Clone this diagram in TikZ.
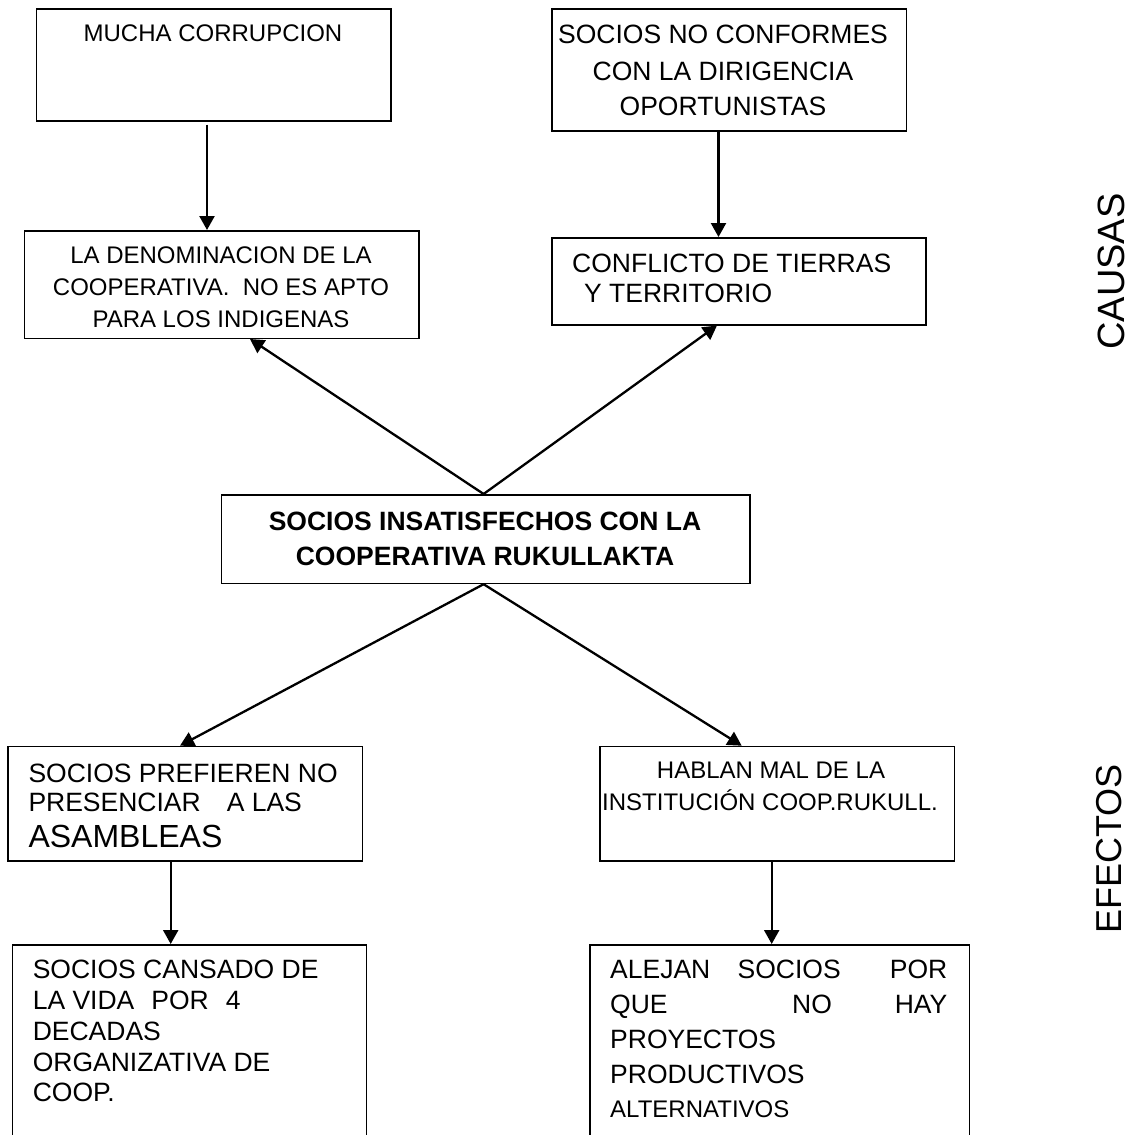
\documentclass[tikz,border=0pt]{standalone}
\usepackage{fontspec}
\setmainfont{Liberation Sans}
\usetikzlibrary{arrows.meta,calc}
\tikzset{
  box/.style={draw=black, line width=1.5pt, rectangle, inner sep=0pt, anchor=north west},
  arr/.style={line width=2.3pt, -{Triangle[width=15pt,length=14pt]}},
  txt/.style={inner sep=0pt, anchor=base, font=\fontsize{24}{28}\selectfont},
  txtl/.style={inner sep=0pt, anchor=base west, font=\fontsize{24}{28}\selectfont},
  big/.style={font=\fontsize{26.5}{30}\selectfont},
  bold/.style={font=\fontsize{26.5}{30}\selectfont\bfseries},
  side/.style={inner sep=0pt, rotate=90, font=\fontsize{36}{40}\selectfont}
}
\begin{document}
\begin{tikzpicture}[x=1pt,y=-1pt]
\useasboundingbox (0,0) rectangle (1136,1135);
% boxes
\node[box, minimum width=354.5pt, minimum height=112pt] (b1) at (35.5,8) {};
\node[box, minimum width=394.5pt, minimum height=107.5pt] (b2) at (23.5,230) {};
\node[box, minimum width=354.6pt, minimum height=122pt] (b3) at (551,8) {};
\node[box, minimum width=374pt, minimum height=87pt] (b4) at (551,237) {};
\node[box, minimum width=528.4pt, minimum height=88.7pt] (c) at (220.6,494) {};
\node[box, minimum width=354.3pt, minimum height=114.3pt] (b5) at (7.2,745.7) {};
\node[box, minimum width=354.2pt, minimum height=200pt] (b6) at (11.6,944) {};
\node[box, minimum width=354.5pt, minimum height=114.3pt] (b7) at (599.3,745.7) {};
\node[box, minimum width=379.4pt, minimum height=200pt] (b8) at (589.4,944) {};
% texts
\node[txt] (t1) at (213,41.7) {MUCHA CORRUPCION};
\node[txt] (t2a) at (221,263) {LA DENOMINACION DE LA};
\node[txt] (t2b) at (221,295) {COOPERATIVA.\ \ NO ES APTO};
\node[txt] (t2c) at (221,327) {PARA LOS INDIGENAS};
\node[txt, big] (t3a) at (723,43) {SOCIOS NO CONFORMES};
\node[txt, big] (t3b) at (723,80) {CON LA DIRIGENCIA};
\node[txt, big] (t3c) at (723,115) {OPORTUNISTAS};
\node[txtl, big] (t4a) at (572,272) {CONFLICTO DE TIERRAS};
\node[txtl, big] (t4b) at (584,302) {Y TERRITORIO};
\node[txt, bold] (tca) at (485,530) {SOCIOS INSATISFECHOS CON LA};
\node[txt, bold] (tcb) at (485,565) {COOPERATIVA RUKULLAKTA};
\node[txtl, big] (t5a) at (28.3,782) {SOCIOS PREFIEREN NO};
\node[txtl, big] (t5b) at (28.3,811) {PRESENCIAR\hspace{26pt}A LAS};
\node[txtl, font=\fontsize{32}{36}\selectfont] (t5c) at (28.3,847) {ASAMBLEAS};
\node[txtl, big] (t6a) at (32.6,978) {SOCIOS CANSADO DE};
\node[txtl, big] (t6b) at (32.6,1009) {LA VIDA\hspace{17pt}POR\hspace{17pt}4};
\node[txtl, big] (t6c) at (32.6,1040) {DECADAS};
\node[txtl, big] (t6d) at (32.6,1071) {ORGANIZATIVA DE};
\node[txtl, big] (t6e) at (32.6,1101) {COOP.};
\node[txt] (t7a) at (771,778) {HABLAN MAL DE LA};
\node[txt] (t7b) at (770,810) {INSTITUCIÓN COOP.RUKULL.};
\node[txtl, big] (t8a1) at (610,978) {ALEJAN};
\node[txtl, big] (t8a2) at (737.4,978) {SOCIOS};
\node[txt, big, anchor=base east] (t8a3) at (947.5,978) {POR};
\node[txtl, big] (t8b1) at (610,1013) {QUE};
\node[txtl, big] (t8b2) at (792,1013) {NO};
\node[txt, big, anchor=base east] (t8b3) at (947.5,1013) {HAY};
\node[txtl, big] (t8c) at (610,1048) {PROYECTOS};
\node[txtl, big] (t8d) at (610,1083) {PRODUCTIVOS};
\node[txtl] (t8e) at (610,1117) {ALTERNATIVOS};
\node[side, font=\fontsize{38}{42}\selectfont] (causas) at (1111.5,271.5) {CAUSAS};
\node[side] (efectos) at (1109.5,849) {EFECTOS};
% arrow x positions
\coordinate (x1) at (207,0);
\coordinate (x2) at (718.5,0);
\coordinate (x5) at (170.7,0);
\coordinate (x7) at (771.7,0);
\coordinate (tipL) at (250,0);
\coordinate (tipR) at (717,0);
\coordinate (tipBL) at (180,0);
\coordinate (tipBR) at (741.7,0);
\coordinate (mid) at (483.6,0);
% connectors
\draw[arr] ($(b1.south -| x1)+(0,3)$) -- (b2.north -| x1);
\draw[arr] (b3.south -| x2) -- (b4.north -| x2);
\draw[arr] (c.north -| mid) -- (b2.south -| tipL);
\draw[arr] (c.north -| mid) -- (b4.south -| tipR);
\draw[arr] (c.south -| mid) -- (b5.north -| tipBL);
\draw[arr] (c.south -| mid) -- (b7.north -| tipBR);
\draw[arr] (b5.south -| x5) -- (b6.north -| x5);
\draw[arr] (b7.south -| x7) -- (b8.north -| x7);
\end{tikzpicture}
\end{document}
